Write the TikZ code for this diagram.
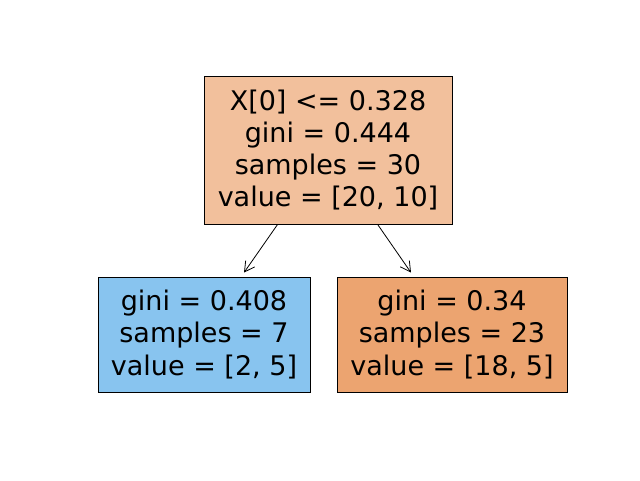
\documentclass[tikz,border=0pt]{standalone}
\usepackage{fontspec}
\setmainfont{DejaVu Sans}
\usetikzlibrary{arrows.meta}
\definecolor{rootc}{RGB}{242,192,156}
\definecolor{leftc}{RGB}{136,196,239}
\definecolor{rightc}{RGB}{236,164,112}
\begin{document}
\begin{tikzpicture}[x=1pt,y=-1pt,
  treebox/.style={draw=black, line width=0.8pt, rectangle, align=center, inner sep=0pt,
    font=\fontsize{27}{32.3}\selectfont, text=black},
  arr/.style={-{Straight Barb[length=10pt,width=11pt,line width=0.8pt]}, line width=0.8pt, black}]
\path[fill=white] (0,0) rectangle (640,480);
\node[treebox, fill=rootc, minimum width=248pt, minimum height=148pt] (root) at (328,150)
  {X[0] <= 0.328\\gini = 0.444\\samples = 30\\value = [20, 10]};
\node[treebox, fill=leftc, minimum width=212pt, minimum height=115pt] (left) at (204,334.5)
  {gini = 0.408\\samples = 7\\value = [2, 5]};
\node[treebox, fill=rightc, minimum width=230pt, minimum height=115pt] (right) at (452,334.5)
  {gini = 0.34\\samples = 23\\value = [18, 5]};
\draw[arr] ([xshift=74pt]root.south west) -- ([xshift=40pt,yshift=4pt]left.north);
\draw[arr] ([xshift=174pt]root.south west) -- ([xshift=-41pt,yshift=4pt]right.north);
\end{tikzpicture}
\end{document}
